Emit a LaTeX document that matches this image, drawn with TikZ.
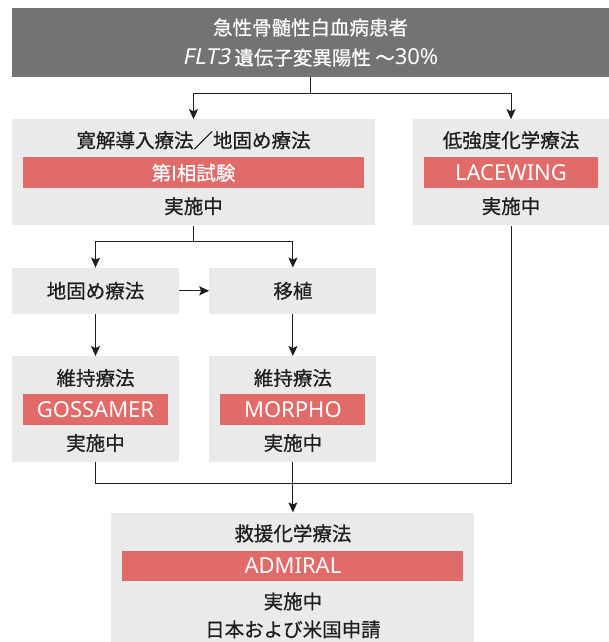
\documentclass[tikz,border=0pt]{standalone}
\usepackage{fontspec}
\setmainfont{Noto Sans CJK JP}[FakeBold=0.6]
\newfontfamily\latinfont{Noto Sans}
\newfontfamily\latinslant{Noto Sans}[FakeSlant=0.2]
\usepackage{tikz}
\usetikzlibrary{arrows.meta, calc, positioning}
\newcommand\jpsize{\fontsize{19.5}{24}\selectfont}
\newcommand\lasize{\fontsize{22}{24}\selectfont}
\definecolor{headgray}{HTML}{737373}
\definecolor{boxgray}{HTML}{E9EBEB}
\definecolor{trialred}{HTML}{E06B69}
\definecolor{inkblack}{HTML}{1E1E1E}
\tikzstyle{head} = [rectangle, fill=headgray, text=white, inner sep=0pt, minimum width=597pt, minimum height=69pt, align=center, font=\fontsize{19.5}{30}\selectfont]
\tikzstyle{stage} = [rectangle, fill=boxgray, inner sep=0pt, minimum height=106pt, text=inkblack, font=\jpsize]
\tikzstyle{jptext} = [inner sep=0pt, text=inkblack, font=\jpsize]
\tikzstyle{trial} = [rectangle, fill=trialred, text=white, inner sep=0pt, minimum height=31pt, font=\latinfont\lasize]
\tikzstyle{link} = [line width=1pt, draw=inkblack]
\tikzstyle{arrow} = [link, -{Stealth[length=10pt, width=9pt, inset=2pt]}]

\begin{document}
\begin{tikzpicture}[node distance=42pt and 30pt]
	\useasboundingbox (0pt,0pt) rectangle (609pt,-642pt);
	% patients
	\node (Top) [head] at (310.5pt,-42.5pt) {急性骨髄性白血病患者\\{\latinslant\lasize FLT3} 遺伝子変異陽性 ～{\latinfont\lasize 30\%}};
	% first line
	\node (Induct) [stage, minimum width=363pt, below right=42pt and 0pt of Top.south west] {};
	\node (LowInt) [stage, minimum width=196pt, below left=42pt and 0pt of Top.south east] {};
	\node (InductHead) [jptext] at ($(Induct.north)+(0,-21pt)$) {寛解導入療法／地固め療法};
	\node (InductBar) [trial, minimum width=341pt, below=38pt of Induct.north, font=\jpsize] {第I相試験};
	\node (InductState) [jptext] at ($(Induct.north)+(0,-87pt)$) {実施中};
	\node (LowIntHead) [jptext] at ($(LowInt.north)+(0,-21pt)$) {低強度化学療法};
	\node (LowIntBar) [trial, minimum width=174pt, below=38pt of LowInt.north] {LACEWING};
	\node (LowIntState) [jptext] at ($(LowInt.north)+(0,-87pt)$) {実施中};
	% consolidation and transplant
	\node (Consol) [stage, minimum width=167pt, minimum height=46pt, below right=42pt and 0pt of Induct.south west] {地固め療法};
	\node (Trans) [stage, minimum width=167pt, minimum height=46pt, right=of Consol] {移植};
	% maintenance
	\node (Maint1) [stage, minimum width=167pt, below=of Consol] {};
	\node (Maint2) [stage, minimum width=167pt, below=of Trans] {};
	\node (Maint1Head) [jptext] at ($(Maint1.north)+(0,-22pt)$) {維持療法};
	\node (Maint1Bar) [trial, minimum width=145pt, below=38pt of Maint1.north] {GOSSAMER};
	\node (Maint1State) [jptext] at ($(Maint1.north)+(0,-87pt)$) {実施中};
	\node (Maint2Head) [jptext] at ($(Maint2.north)+(0,-22pt)$) {維持療法};
	\node (Maint2Bar) [trial, minimum width=145pt, below=38pt of Maint2.north] {MORPHO};
	\node (Maint2State) [jptext] at ($(Maint2.north)+(0,-87pt)$) {実施中};
	% salvage
	\node (Salvage) [stage, minimum width=363pt, minimum height=131pt, below=50pt of Maint2] {};
	\node (SalvageHead) [jptext] at ($(Salvage.north)+(0,-21pt)$) {救援化学療法};
	\node (SalvageBar) [trial, minimum width=341pt, minimum height=30pt, below=38pt of Salvage.north] {ADMIRAL};
	\node (SalvageState) [jptext] at ($(Salvage.north)+(0,-89pt)$) {実施中};
	\node (SalvageFiling) [jptext] at ($(Salvage.north)+(0,-117pt)$) {日本および米国申請};
	% connectors
	\coordinate (Split) at ($(Top.south)+(0,-16pt)$);
	\coordinate (Fork) at ($(Induct.south)+(0,-16pt)$);
	\coordinate (Merge) at ($(Salvage.north)+(0,29pt)$);
	\draw [link] (Top.south) -- (Split);
	\draw [arrow] (Split) -| (Induct.north);
	\draw [arrow] (Split) -| (LowInt.north);
	\draw [link] (Induct.south) -- (Fork);
	\draw [arrow] (Fork) -| (Consol.north);
	\draw [arrow] (Fork) -| (Trans.north);
	\draw [arrow] (Consol) -- (Trans);
	\draw [arrow] (Consol) -- (Maint1);
	\draw [arrow] (Trans) -- (Maint2);
	\draw [link] (Maint1.south) |- (Merge) -| (LowInt.south);
	\draw [arrow] (Maint2) -- (Salvage);
\end{tikzpicture}
\end{document}
